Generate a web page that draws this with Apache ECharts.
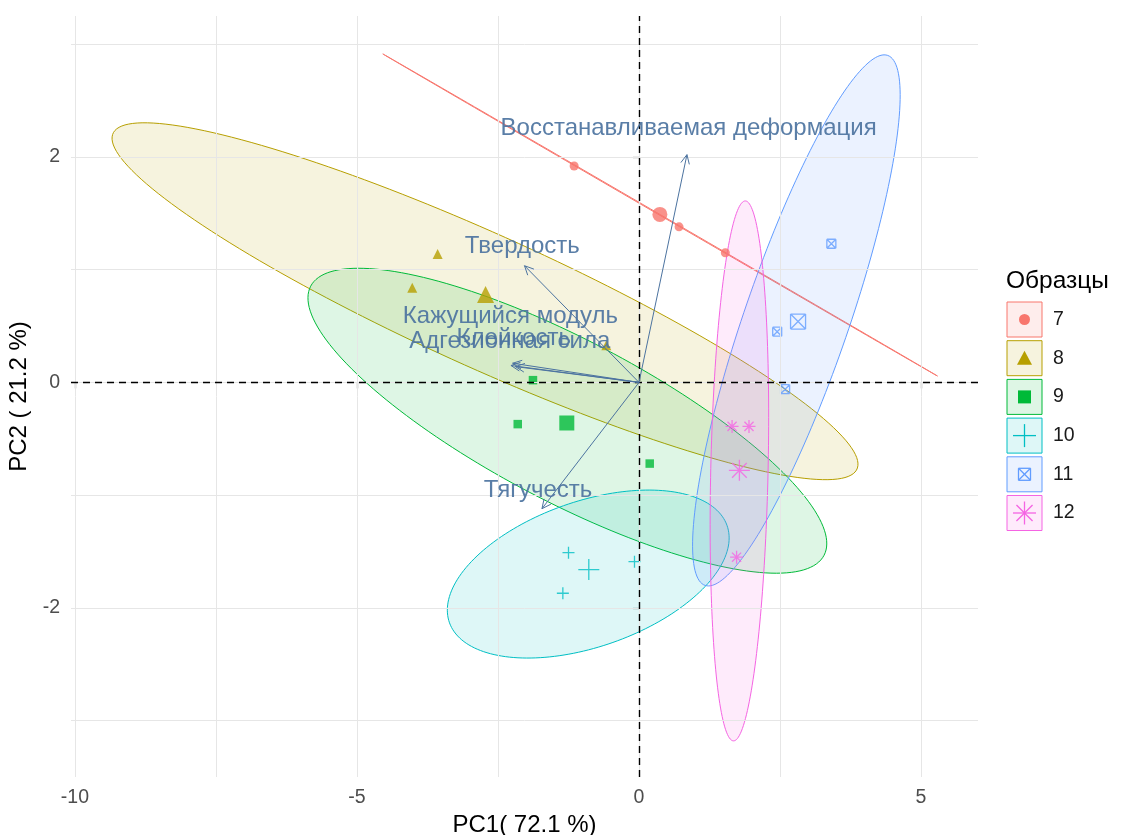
<!DOCTYPE html>
<html>
<head>
<meta charset="utf-8">
<script src="https://cdn.jsdelivr.net/npm/echarts@6/dist/echarts.min.js"></script>
<style>
  html, body { margin: 0; padding: 0; background: #ffffff; }
  #chart { width: 1122px; height: 835px; }
</style>
</head>
<body>
<div id="chart"></div>
<script>
// ---- Groups (samples) ----
const groupNames = ['7', '8', '9', '10', '11', '12'];
const groupColors = ['#F8766D', '#B79F00', '#00BA38', '#00BFC4', '#619CFF', '#F564E3'];

// Individual scores (PC1, PC2) per group
const pointsX = [
  [-1.15, 0.71, 1.53],
  [-3.57, -4.02, -0.58],
  [-1.88, -2.15, 0.19],
  [-1.25, -0.08, -1.35],
  [2.45, 2.59, 3.41],
  [1.65, 1.95, 1.73]
];
const pointsY = [
  [1.92, 1.38, 1.15],
  [1.14, 0.84, 0.33],
  [0.02, -0.37, -0.72],
  [-1.51, -1.59, -1.87],
  [0.45, -0.06, 1.23],
  [-0.39, -0.39, -1.55]
];

// Group mean points
const centerX = [0.37, -2.72, -1.28, -0.89, 2.82, 1.78];
const centerY = [1.49, 0.78, -0.36, -1.66, 0.54, -0.78];

// Concentration ellipses: centre, semi-axes, rotation (degrees)
const ellipseCX = [0.375, -2.73, -1.27, -0.90, 2.79, 1.78];
const ellipseCY = [1.485, 0.72, -0.34, -1.70, 0.55, -0.785];
const ellipseA = [5.12, 6.77, 4.73, 2.52, 2.88, 2.397];
const ellipseB = [0.004, 0.63, 0.78, 0.667, 0.80, 0.508];
const ellipseAngle = [-16.2, -12.44, -13.7, 7.85, 53.2, 87.4];

// ---- Variables (loadings) ----
const varNames = ['Восстанавливаемая деформация', 'Твердость', 'Кажущийся модуль', 'Клейкость', 'Адгезионная сила', 'Тягучесть'];
const varX = [0.85, -2.03, -2.24, -2.27, -2.19, -1.72];
const varY = [2.02, 1.035, 0.17, 0.15, 0.14, -1.12];
const varLabelX = [0.88, -2.07, -2.28, -2.22, -2.29, -1.79];
const varLabelY = [2.25, 1.21, 0.59, 0.39, 0.363, -0.955];

// ---- Axes ----
const xTicks = [-10, -5, 0, 5];
const yTicks = [-2, 0, 2];
const xGrid = [-10, -7.5, -5, -2.5, 0, 2.5, 5];
const yGrid = [-3, -2, -1, 0, 1, 2, 3];
const xTitle = 'PC1( 72.1 %)';
const yTitle = 'PC2 ( 21.2 %)';
const legendTitle = 'Образцы';

const FONT = '"Liberation Sans", Arial, sans-serif';
const VAR_COLOR = '#4c73a0';

// Stroked marker shapes, as line segments in a unit box
const SEGMENTS = {
  plus: [[0.5, 0, 0.5, 1], [0, 0.5, 1, 0.5]],
  sqcross: [[0, 0, 1, 0], [1, 0, 1, 1], [1, 1, 0, 1], [0, 1, 0, 0], [0, 0, 1, 1], [1, 0, 0, 1]],
  star: [[0.5, 0, 0.5, 1], [0, 0.5, 1, 0.5], [0.15, 0.15, 0.85, 0.85], [0.85, 0.15, 0.15, 0.85]]
};
function segPath(key) {
  return 'path://' + SEGMENTS[key].map(s => 'M' + s[0] * 20 + ',' + s[1] * 20 + ' L' + s[2] * 20 + ',' + s[3] * 20).join(' ');
}

// Marker shapes per group
const groupShapes = ['circle', 'triangle', 'rect', 'plus', 'sqcross', 'star'];
const smallSize = [9, 10, 8.5, 12, 9, 13];
const bigSize = [15, 17, 15, 21, 15, 21];
const legendSize = [11, 15, 13, 23, 12, 23];

function isFilled(g) { return ['circle', 'triangle', 'rect'].indexOf(groupShapes[g]) >= 0; }
function echartsSymbol(g) { return isFilled(g) ? groupShapes[g] : segPath(groupShapes[g]); }

function withAlpha(hex, a) {
  const n = parseInt(hex.slice(1), 16);
  return 'rgba(' + ((n >> 16) & 255) + ',' + ((n >> 8) & 255) + ',' + (n & 255) + ',' + a + ')';
}

function markerStyle(g) {
  return isFilled(g)
    ? { color: groupColors[g] }
    : { color: 'rgba(0,0,0,0)', borderColor: groupColors[g], borderWidth: 1.3 };
}

const series = [];

// Background grid lines
series.push({
  type: 'line', data: [], silent: true, z: 0,
  markLine: {
    silent: true, symbol: ['none', 'none'], label: { show: false }, animation: false,
    lineStyle: { color: '#e6e6e6', width: 1, type: 'solid' },
    data: xGrid.map(v => ({ xAxis: v })).concat(yGrid.map(v => ({ yAxis: v })))
  }
});

// Ellipses
series.push({
  type: 'custom',
  z: 2,
  clip: true,
  data: groupNames.map((n, g) => [ellipseCX[g], ellipseCY[g], ellipseA[g], ellipseB[g], ellipseAngle[g], g]),
  renderItem: function (params, api) {
    const cx = api.value(0), cy = api.value(1), a = api.value(2), b = api.value(3);
    const ang = api.value(4) * Math.PI / 180, g = api.value(5);
    const pts = [];
    for (let k = 0; k <= 180; k++) {
      const t = k / 180 * 2 * Math.PI;
      const u = a * Math.cos(t), v = b * Math.sin(t);
      pts.push(api.coord([cx + u * Math.cos(ang) - v * Math.sin(ang), cy + u * Math.sin(ang) + v * Math.cos(ang)]));
    }
    return {
      type: 'polygon',
      shape: { points: pts },
      style: { fill: withAlpha(groupColors[g], 0.13), stroke: groupColors[g], lineWidth: 1 }
    };
  }
});

// Zero reference lines
series.push({
  type: 'line', data: [], silent: true, z: 3,
  markLine: {
    silent: true, symbol: ['none', 'none'], label: { show: false }, animation: false,
    lineStyle: { color: '#000000', width: 1.4, type: [7, 5] },
    data: [{ xAxis: 0 }, { yAxis: 0 }]
  }
});

// Individual points and group means
groupNames.forEach((name, g) => {
  series.push({
    type: 'scatter', name: name, z: 4,
    symbol: echartsSymbol(g), symbolSize: smallSize[g],
    itemStyle: markerStyle(g),
    data: pointsX[g].map((x, i) => [x, pointsY[g][i]])
  });
  series.push({
    type: 'scatter', name: name, z: 4,
    symbol: echartsSymbol(g), symbolSize: bigSize[g],
    itemStyle: markerStyle(g),
    data: [[centerX[g], centerY[g]]]
  });
});

// Variable arrows
series.push({
  type: 'custom', z: 5,
  data: varX.map((x, i) => [x, varY[i]]),
  renderItem: function (params, api) {
    const o = api.coord([0, 0]);
    const p = api.coord([api.value(0), api.value(1)]);
    const ang = Math.atan2(p[1] - o[1], p[0] - o[0]);
    const L = 10, spread = Math.PI / 7;
    const h1 = [p[0] - L * Math.cos(ang - spread), p[1] - L * Math.sin(ang - spread)];
    const h2 = [p[0] - L * Math.cos(ang + spread), p[1] - L * Math.sin(ang + spread)];
    return {
      type: 'group',
      children: [
        { type: 'line', shape: { x1: o[0], y1: o[1], x2: p[0], y2: p[1] }, style: { stroke: VAR_COLOR, lineWidth: 1 } },
        { type: 'polyline', shape: { points: [h1, p, h2] }, style: { stroke: VAR_COLOR, lineWidth: 1, fill: null } }
      ]
    };
  }
});

// Variable labels
series.push({
  type: 'custom', z: 6,
  data: varLabelX.map((x, i) => [x, varLabelY[i], i]),
  renderItem: function (params, api) {
    const p = api.coord([api.value(0), api.value(1)]);
    return {
      type: 'text',
      x: p[0], y: p[1],
      style: {
        text: varNames[api.value(2)],
        fill: VAR_COLOR, fontSize: 24, fontFamily: FONT,
        align: 'center', verticalAlign: 'middle', opacity: 0.92
      }
    };
  }
});

// Legend drawn as boxed keys
const LEG_LEFT = 1007, LEG_TOP = 302, LEG_STEP = 38.7, KEY = 35;
const graphics = [{
  type: 'text', x: LEG_LEFT - 1, y: 281,
  style: { text: legendTitle, fontSize: 24.5, fontFamily: FONT, fill: '#000000', align: 'left', verticalAlign: 'middle' }
}];
groupNames.forEach((name, g) => {
  const y0 = LEG_TOP + g * LEG_STEP;
  const cx = LEG_LEFT + KEY / 2, cy = y0 + KEY / 2;
  graphics.push({
    type: 'rect', shape: { x: LEG_LEFT, y: y0, width: KEY, height: KEY },
    style: { fill: withAlpha(groupColors[g], 0.13), stroke: groupColors[g], lineWidth: 1 }
  });
  const s = legendSize[g];
  const shape = groupShapes[g];
  if (shape === 'circle') {
    graphics.push({ type: 'circle', shape: { cx: cx, cy: cy, r: s / 2 }, style: { fill: groupColors[g] } });
  } else if (shape === 'triangle') {
    graphics.push({ type: 'polygon', shape: { points: [[cx, cy - s / 2], [cx + s / 2, cy + s / 2 - 1], [cx - s / 2, cy + s / 2 - 1]] }, style: { fill: groupColors[g] } });
  } else if (shape === 'rect') {
    graphics.push({ type: 'rect', shape: { x: cx - s / 2, y: cy - s / 2, width: s, height: s }, style: { fill: groupColors[g] } });
  } else {
    SEGMENTS[shape].forEach(sg => {
      graphics.push({
        type: 'line',
        shape: { x1: cx - s / 2 + sg[0] * s, y1: cy - s / 2 + sg[1] * s, x2: cx - s / 2 + sg[2] * s, y2: cy - s / 2 + sg[3] * s },
        style: { stroke: groupColors[g], lineWidth: 1.3 }
      });
    });
  }
  graphics.push({
    type: 'text', x: LEG_LEFT + KEY + 11, y: cy,
    style: { text: name, fontSize: 19.5, fontFamily: FONT, fill: '#1a1a1a', align: 'left', verticalAlign: 'middle' }
  });
});

const chart = echarts.init(document.getElementById('chart'), null, { renderer: 'canvas' });
chart.setOption({
  animation: false,
  backgroundColor: '#ffffff',
  textStyle: { fontFamily: FONT },
  grid: { left: 71, right: 144, top: 16, bottom: 58, containLabel: false, outerBoundsMode: 'none' },
  xAxis: {
    type: 'value', min: -10.07, max: 6.01,
    axisLine: { show: false },
    axisTick: { show: true, customValues: xTicks, length: 6, lineStyle: { color: '#333333', width: 1.2 } },
    axisLabel: { customValues: xTicks, fontSize: 19.5, color: '#4d4d4d', margin: 11, fontFamily: FONT },
    splitLine: { show: false },
    name: xTitle, nameLocation: 'middle', nameGap: 30,
    nameTextStyle: { fontSize: 24, color: '#000000', fontFamily: FONT, verticalAlign: 'top' }
  },
  yAxis: {
    type: 'value', min: -3.5, max: 3.25,
    axisLine: { show: false },
    axisTick: { show: true, customValues: yTicks, length: 6, lineStyle: { color: '#333333', width: 1.2 } },
    axisLabel: { customValues: yTicks, fontSize: 19.5, color: '#4d4d4d', margin: 11, fontFamily: FONT },
    splitLine: { show: false },
    name: yTitle, nameLocation: 'middle', nameGap: 27, nameRotate: 90,
    nameTextStyle: { fontSize: 24, color: '#000000', fontFamily: FONT }
  },
  graphic: { elements: graphics },
  series: series
});
</script>
</body>
</html>
